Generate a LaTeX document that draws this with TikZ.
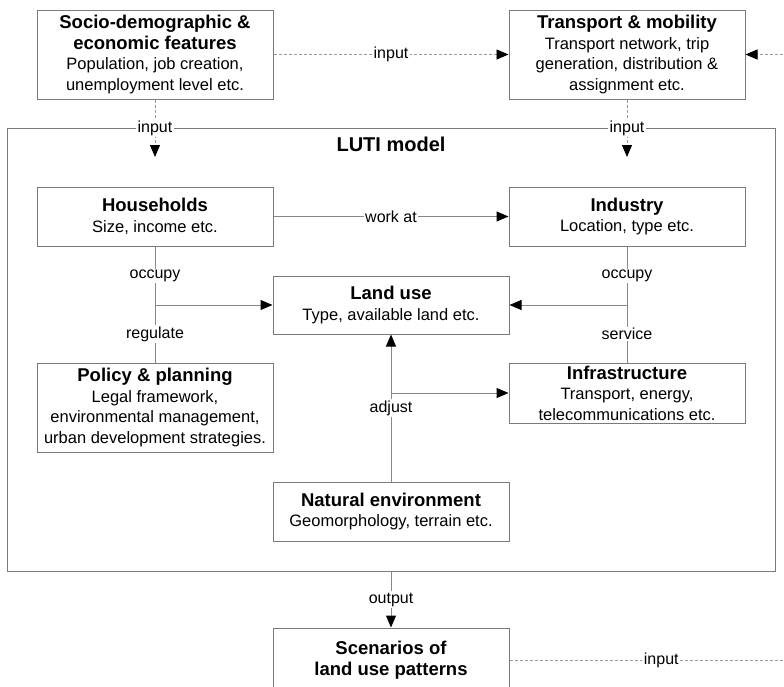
\documentclass[tikz,border=0pt]{standalone}
\usepackage{fontspec}
\setmainfont{Liberation Sans}
\usetikzlibrary{arrows.meta}
\definecolor{boxgray}{HTML}{7A7A7A}
\definecolor{linegray}{HTML}{888888}
\definecolor{dashgray}{HTML}{9A9A9A}
\newcommand\boxtitle[1]{{\fontsize{18.5}{22}\selectfont\bfseries #1}}
\begin{document}
\begin{tikzpicture}[x=1pt,y=-1pt,
  box/.style={draw=boxgray, line width=1pt, fill=white, align=center,
    minimum width=236pt, inner sep=0pt, text=black,
    font=\fontsize{16.5}{20.5}\selectfont},
  frame/.style={draw=boxgray, line width=1pt},
  ln/.style={draw=linegray, line width=1pt},
  dsh/.style={draw=dashgray, line width=0.9pt, dash pattern=on 3pt off 2pt},
  arr/.style={-{Triangle[length=12pt,width=10pt,color=black]}},
  lbl/.style={fill=white, inner sep=1.5pt, text=black,
    font=\fontsize{16}{18}\selectfont}]
\useasboundingbox (0,0) rectangle (784,686);
\clip (0,0) rectangle (784,686);
\fill[white] (0,0) rectangle (784,686);

% LUTI frame
\node[frame, minimum width=768pt, minimum height=443pt, inner sep=0pt] (luti) at (391,349.5) {};
\node[font=\fontsize{20}{24}\selectfont\bfseries, text=black] (lutit) at (391,144) {LUTI model};

% boxes
\node[box, minimum height=89pt] (socio) at (155,54.5)
  {\boxtitle{Socio-demographic \&}\\\boxtitle{economic features}\\Population, job creation,\\unemployment level etc.};
\node[box, minimum height=89pt] (trans) at (627,54.5)
  {\boxtitle{Transport \& mobility}\\Transport network, trip\\generation, distribution \&\\assignment etc.};
\node[box, minimum height=59pt] (house) at (155,216.5)
  {\boxtitle{Households}\\Size, income etc.};
\node[box, minimum height=59pt] (ind) at (627,216.5)
  {\boxtitle{Industry}\\Location, type etc.};
\node[box, minimum height=58pt] (land) at (391,305)
  {\boxtitle{Land use}\\Type, available land etc.};
\node[box, minimum height=89pt] (policy) at (155,407.5)
  {\boxtitle{Policy \& planning}\\Legal framework,\\environmental management,\\urban development strategies.};
\node[box, minimum height=60pt] (infra) at (627,393)
  {\boxtitle{Infrastructure}\\Transport, energy,\\telecommunications etc.};
\node[box, minimum height=59pt] (nat) at (391,511.5)
  {\boxtitle{Natural environment}\\Geomorphology, terrain etc.};
\node[box, minimum height=64pt] (scen) at (391,660)
  {\boxtitle{Scenarios of}\\\boxtitle{land use patterns}};

% free ends
\coordinate (rt) at (813,54.5);
\coordinate (rb) at (813,660);
\coordinate (si) at (155,157);
\coordinate (ti) at (627,157);

% dashed inputs
\draw[dsh, arr] (socio.east) -- node[lbl] (in1) {input} (trans.west);
\draw[dsh, arr] (rt) -- (trans.east);
\draw[dsh, arr] (socio.south) -- node[lbl] (in2) {input} (si);
\draw[dsh, arr] (trans.south) -- node[lbl] (in3) {input} (ti);
\draw[dsh] (scen.east) -- node[lbl] (in4) {input} (rb);

% solid relations
\draw[ln, arr] (house.east) -- node[lbl] (work) {work at} (ind.west);
\draw[ln] (house.south) -- (policy.north);
\draw[ln, arr] (house.south |- land.west) -- (land.west);
\draw[ln] (ind.south) -- (infra.north);
\draw[ln, arr] (ind.south |- land.east) -- (land.east);
\draw[ln, arr] (nat.north) -- (land.south);
\draw[ln, arr] (nat.north |- infra.west) -- (infra.west);
\draw[ln, arr] (luti.south) -- node[lbl] (outp) {output} (scen.north);

% labels on vertical lines
\node[lbl] (occ1) at (155,276) {occupy};
\node[lbl] (reg) at (155,334) {regulate};
\node[lbl] (occ2) at (627,276) {occupy};
\node[lbl] (serv) at (627,334) {service};
\node[lbl] (adj) at (391,408) {adjust};
\end{tikzpicture}
\end{document}
